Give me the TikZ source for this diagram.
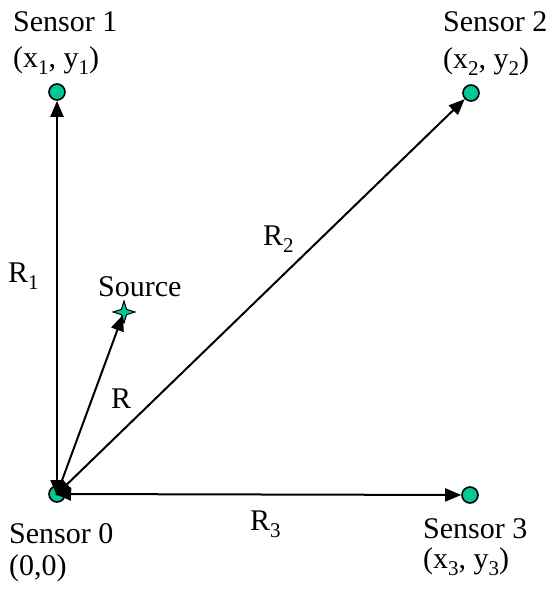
\documentclass[tikz,border=0pt]{standalone}
\usepackage{fontspec}
\setmainfont{Liberation Serif}
\usetikzlibrary{arrows.meta,shapes.geometric}
\definecolor{sensgreen}{RGB}{0,200,150}
\newcommand\sbs[1]{\raisebox{-7pt}{\fontsize{21}{21}\selectfont #1}}
\tikzset{
  sensor/.style={circle,draw=black,line width=1.6pt,fill=sensgreen,minimum size=16pt,inner sep=0pt},
  srcstar/.style={star,star points=4,star point ratio=3,draw=black,line width=1pt,fill=sensgreen,minimum size=22pt,inner sep=0pt},
  lbl/.style={anchor=base west,inner sep=0pt,font=\fontsize{30}{30}\selectfont},
  arr/.style={line width=2pt,{Triangle[length=16pt,width=13pt]}-{Triangle[length=16pt,width=13pt]}},
  arrone/.style={line width=2pt,-{Triangle[length=16pt,width=13pt]}}
}
\begin{document}
\begin{tikzpicture}[x=1pt,y=-1pt]
\useasboundingbox (0,0) rectangle (553,589);
\node[sensor] (s0) at (57,494) {};
\node[sensor] (s1) at (57,92) {};
\node[sensor] (s2) at (471,93) {};
\node[sensor] (s3) at (470,495) {};
\node[srcstar] (src) at (124,312) {};
\draw[arr,shorten <=-2pt] (s0.center) -- (s1);
\draw[arr,shorten <=-2pt] (s0.center) -- (s2);
\draw[arr,shorten <=-2pt] (s0.center) -- (s3);
\draw[arrone,shorten >=3pt] (s0.center) -- (src.center);
\node[lbl] (t1) at (13,31) {Sensor 1};
\node[lbl] (c1) at (13,67) {(x\sbs{1}, y\sbs{1})};
\node[lbl] (t2) at (443,31) {Sensor 2};
\node[lbl] (c2) at (443,68) {(x\sbs{2}, y\sbs{2})};
\node[lbl] (t0) at (9,543) {Sensor 0};
\node[lbl] (c0) at (9,575) {(0,0)};
\node[lbl] (t3) at (423,538) {Sensor 3};
\node[lbl] (c3) at (423,568) {(x\sbs{3}, y\sbs{3})};
\node[lbl] (r1) at (8,282) {R\sbs{1}};
\node[lbl] (ts) at (98,296) {Source};
\node[lbl] (r2) at (263,245) {R\sbs{2}};
\node[lbl] (r) at (111,408) {R};
\node[lbl] (r3) at (250,530) {R\sbs{3}};
\end{tikzpicture}
\end{document}
